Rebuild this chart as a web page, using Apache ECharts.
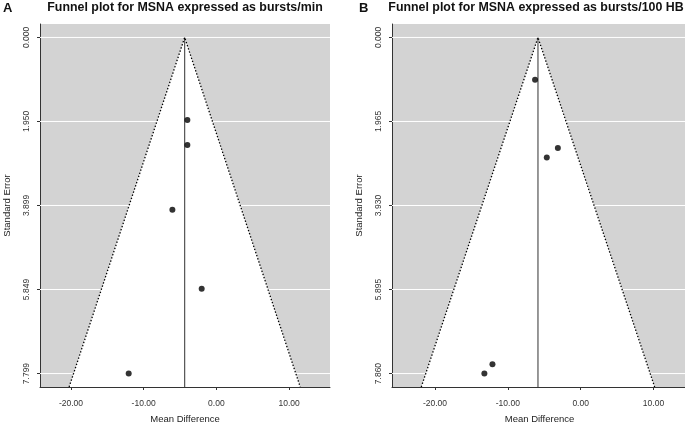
<!DOCTYPE html>
<html>
<head>
<meta charset="utf-8">
<script src="https://cdn.jsdelivr.net/npm/echarts@6/dist/echarts.min.js"></script>
<style>html,body{margin:0;padding:0;background:#fff}#c{width:685px;height:423px}</style>
</head>
<body>
<div id="c"></div>
<script>
// ---- data ----
const titleA = 'Funnel plot for MSNA expressed as bursts/min';
const titleB = 'Funnel plot for MSNA expressed as bursts/100 HB';
const mdA = [-3.99, -3.99, -6.05, -2.02, -12.06];
const seA = [1.914, 2.494, 4.00, 5.834, 7.799];
const meanA = -4.36;
const mdB = [-6.26, -3.13, -4.65, -12.11, -13.22];
const seB = [0.99, 2.587, 2.807, 7.64, 7.86];
const meanB = -5.86;
const yTicksA = [0, 1.950, 3.899, 5.849, 7.799];
const yTicksB = [0, 1.965, 3.930, 5.895, 7.860];
const xTicks = [-20, -10, 0, 10];
const zCrit = 1.96;

// ---- layout ----
const FONT = 'Liberation Sans, Arial, sans-serif';
const panels = [
  {md: mdA, se: seA, mean: meanA, yTicks: yTicksA, xMin: -24.26, xMax: 15.63, grid: {left: 40, top: 24, width: 290, height: 363}},
  {md: mdB, se: seB, mean: meanB, yTicks: yTicksB, xMin: -25.9, xMax: 14.6, grid: {left: 392, top: 24, width: 295, height: 363}}
];

const grids = [], xAxes = [], yAxes = [], series = [];
panels.forEach((p, i) => {
  const seMax = p.yTicks[p.yTicks.length - 1];
  const yMin = -0.04 * seMax, yMax = 1.04 * seMax;
  grids.push(Object.assign({show: true, backgroundColor: '#d3d3d3', borderWidth: 0, containLabel: false, outerBoundsMode: 'none'}, p.grid));
  xAxes.push({
    type: 'value', gridIndex: i, min: p.xMin, max: p.xMax,
    axisLine: {show: true, onZero: false, lineStyle: {color: '#333', width: 1}},
    axisTick: {show: true, customValues: xTicks, length: 3, lineStyle: {color: '#333'}},
    axisLabel: {customValues: xTicks, formatter: v => v.toFixed(2), fontSize: 8.5, color: '#333', margin: 12, fontFamily: FONT},
    splitLine: {show: false},
    name: 'Mean Difference', nameLocation: 'middle', nameGap: 27,
    nameTextStyle: {fontSize: 9.5, color: '#222', fontFamily: FONT}
  });
  yAxes.push({
    type: 'value', gridIndex: i, inverse: true, min: yMin, max: yMax,
    axisLine: {show: true, onZero: false, lineStyle: {color: '#333', width: 1}},
    axisTick: {show: true, customValues: p.yTicks, length: 3, lineStyle: {color: '#333'}},
    axisLabel: {customValues: p.yTicks, formatter: v => v.toFixed(3), rotate: 90, fontSize: 8.5, color: '#333', margin: 9, fontFamily: FONT},
    splitLine: {show: false},
    name: 'Standard Error', nameLocation: 'middle', nameGap: 28, nameRotate: 90,
    nameTextStyle: {fontSize: 9.5, color: '#222', fontFamily: FONT}
  });
  // gridlines
  series.push({
    type: 'custom', xAxisIndex: i, yAxisIndex: i, z: 1, silent: true,
    data: p.yTicks.map(v => [v]),
    renderItem: (params, api) => {
      const v = api.value(0);
      const a = api.coord([p.xMin, v]), b = api.coord([p.xMax, v]);
      return {type: 'line', shape: {x1: a[0], y1: a[1], x2: b[0], y2: b[1]}, style: {stroke: '#fff', lineWidth: 1}};
    }
  });
  // funnel
  series.push({
    type: 'custom', xAxisIndex: i, yAxisIndex: i, z: 2, silent: true, clip: true,
    data: [[p.mean, zCrit]],
    renderItem: (params, api) => {
      const m = api.value(0), z = api.value(1);
      const apex = api.coord([m, 0]);
      const bl = api.coord([m - z * yMax, yMax]);
      const br = api.coord([m + z * yMax, yMax]);
      const bm = api.coord([m, yMax]);
      return {type: 'group', children: [
        {type: 'polygon', shape: {points: [apex, bl, br]}, style: {fill: '#fff'}},
        {type: 'line', shape: {x1: apex[0], y1: apex[1], x2: bm[0], y2: bm[1]}, style: {stroke: '#444', lineWidth: 1.1}},
        {type: 'polyline', shape: {points: [bl, apex, br]}, style: {stroke: '#000', lineWidth: 1.3, lineDash: [1.4, 1.9], fill: null}}
      ]};
    }
  });
  series.push({
    type: 'scatter', xAxisIndex: i, yAxisIndex: i, z: 4, symbol: 'circle', symbolSize: 6,
    itemStyle: {color: '#000'},
    data: p.md.map((x, k) => [x, p.se[k]])
  });
});

const chart = echarts.init(document.getElementById('c'), null, {renderer: 'canvas'});
chart.setOption({
  animation: false,
  backgroundColor: '#fff',
  title: [
    {text: 'A', left: 3, top: 2, padding: 0, textStyle: {fontSize: 13, fontWeight: 'bold', color: '#111', fontFamily: FONT}},
    {text: titleA, left: 185, textAlign: 'center', top: 2, padding: 0, textStyle: {fontSize: 12.4, fontWeight: 'bold', color: '#111', fontFamily: FONT}},
    {text: 'B', left: 359, top: 2, padding: 0, textStyle: {fontSize: 13, fontWeight: 'bold', color: '#111', fontFamily: FONT}},
    {text: titleB, left: 536, textAlign: 'center', top: 2, padding: 0, textStyle: {fontSize: 12.4, fontWeight: 'bold', color: '#111', fontFamily: FONT}}
  ],
  grid: grids, xAxis: xAxes, yAxis: yAxes, series: series
});
</script>
</body>
</html>
